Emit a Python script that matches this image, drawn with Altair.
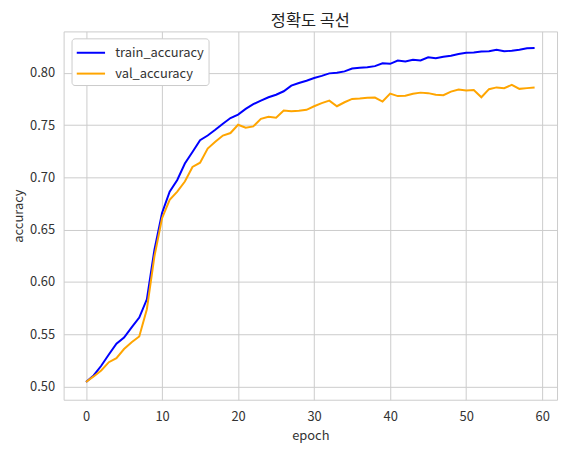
import altair as alt
import pandas as pd

epochs = list(range(60))
train_accuracy = [
    0.5045, 0.5107, 0.5200, 0.5307, 0.5410, 0.5470, 0.5567, 0.5660, 0.5835, 0.6310,
    0.6660, 0.6864, 0.6975, 0.7133, 0.7243, 0.7355, 0.7400, 0.7455, 0.7513, 0.7567,
    0.7600, 0.7655, 0.7700, 0.7734, 0.7766, 0.7790, 0.7823, 0.7877, 0.7902, 0.7924,
    0.7950, 0.7970, 0.7994, 0.8000, 0.8013, 0.8040, 0.8047, 0.8053, 0.8063, 0.8090,
    0.8085, 0.8117, 0.8107, 0.8123, 0.8117, 0.8148, 0.8138, 0.8153, 0.8163, 0.8180,
    0.8190, 0.8193, 0.8202, 0.8206, 0.8220, 0.8206, 0.8210, 0.8220, 0.8233, 0.8236,
]
val_accuracy = [
    0.5045, 0.5098, 0.5155, 0.5234, 0.5272, 0.5360, 0.5424, 0.5480, 0.5740, 0.6247,
    0.6610, 0.6785, 0.6864, 0.6960, 0.7100, 0.7140, 0.7276, 0.7340, 0.7400, 0.7424,
    0.7503, 0.7475, 0.7487, 0.7560, 0.7580, 0.7570, 0.7640, 0.7633, 0.7636, 0.7646,
    0.7680, 0.7710, 0.7734, 0.7680, 0.7718, 0.7750, 0.7753, 0.7760, 0.7763, 0.7725,
    0.7800, 0.7777, 0.7780, 0.7800, 0.7810, 0.7805, 0.7790, 0.7786, 0.7820, 0.7840,
    0.7830, 0.7835, 0.7766, 0.7843, 0.7860, 0.7853, 0.7884, 0.7846, 0.7853, 0.7860,
]
series_names = ["train_accuracy", "val_accuracy"]
series_colors = ["blue", "orange"]
x_ticks = [0, 10, 20, 30, 40, 50, 60]
y_ticks = [0.50, 0.55, 0.60, 0.65, 0.70, 0.75, 0.80]

rows = []
for name, vals in zip(series_names, [train_accuracy, val_accuracy]):
    for e, v in zip(epochs, vals):
        rows.append({"epoch": e, "accuracy": v, "series": name})
df = pd.DataFrame(rows)

FONT = "Noto Sans CJK KR"

chart = (
    alt.Chart(df)
    .mark_line(strokeWidth=2)
    .encode(
        x=alt.X(
            "epoch:Q",
            scale=alt.Scale(domain=[-2.95, 61.95], nice=False, zero=False),
            axis=alt.Axis(values=x_ticks, title="epoch", format="d"),
        ),
        y=alt.Y(
            "accuracy:Q",
            scale=alt.Scale(domain=[0.4875, 0.8395], nice=False, zero=False),
            axis=alt.Axis(values=y_ticks, title="accuracy", format=".2f"),
        ),
        color=alt.Color(
            "series:N",
            scale=alt.Scale(domain=series_names, range=series_colors),
            legend=alt.Legend(
                title=None,
                orient="none",
                legendX=8,
                legendY=7,
                symbolType="M-1.5,0H1.5",
                symbolSize=361,
                symbolStrokeWidth=2,
                symbolOffset=5,
                labelFontSize=13,
                labelFont=FONT,
                labelColor="#333333",
                fillColor="white",
                strokeColor="#cccccc",
                cornerRadius=3,
                padding=4,
                rowPadding=3,
                labelOffset=14,
            ),
        ),
        order="epoch:Q",
    )
    .properties(
        width=497,
        height=371,
        title=alt.TitleParams(
            "정확도 곡선", font=FONT, fontSize=16.5, fontWeight="normal",
            color="#222222", offset=2,
        ),
        autosize=alt.AutoSizeParams(type="none"),
        padding={"left": 56, "top": 22, "right": 5, "bottom": 45},
    )
    .configure_view(stroke="#cccccc", strokeWidth=1)
    .configure_axis(
        grid=True,
        gridColor="#cccccc",
        gridWidth=1,
        domain=False,
        ticks=False,
        labelFont=FONT,
        labelFontSize=13,
        labelColor="#333333",
        titleFont=FONT,
        titleFontSize=13,
        titleFontWeight="normal",
        titleColor="#333333",
    )
    .configure_axisX(labelPadding=11, titlePadding=6)
    .configure_axisY(labelPadding=9, titlePadding=4)
)

chart.save("out.html", embed_options={"renderer": "svg", "actions": False})
